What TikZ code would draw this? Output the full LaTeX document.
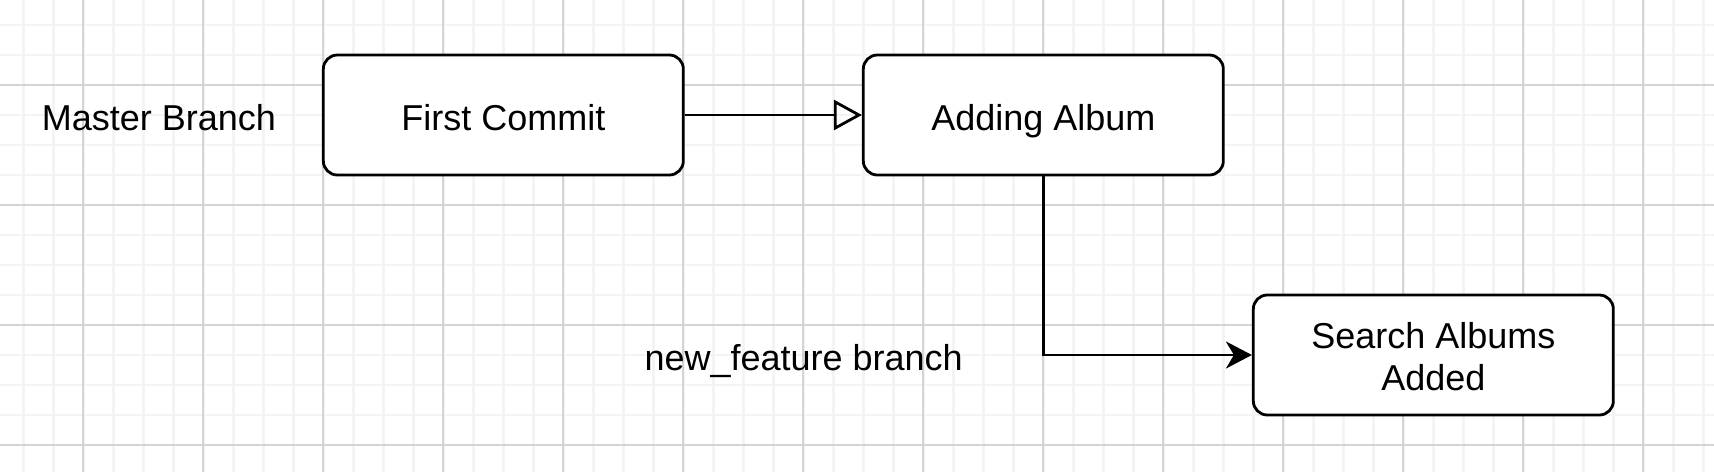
\documentclass[tikz,border=0pt]{standalone}
\usepackage{fontspec}
\setmainfont{Liberation Sans}
\usetikzlibrary{arrows.meta}
\definecolor{gridmajor}{HTML}{D4D4D4}
\definecolor{gridminor}{HTML}{F4F4F4}
\tikzset{
  minorline/.style={draw=gridminor, line width=2.5pt},
  majorline/.style={draw=gridmajor, line width=2pt},
  commitbox/.style={draw=black, fill=white, line width=2.8pt, rounded corners=14pt,
    minimum width=360pt, minimum height=120pt, inner sep=0pt,
    font=\fontsize{36}{42}\selectfont, text height=30pt, text depth=0pt},
  twolinebox/.style={commitbox, align=center, text height=70pt},
  plainlabel/.style={font=\fontsize{36}{42}\selectfont, anchor=base, inner sep=0pt},
  conn/.style={draw=black, line width=2.8pt},
}
\begin{document}
\begin{tikzpicture}[x=1pt, y=-1pt]
\useasboundingbox (0,0) rectangle (1714,472);
\fill[white] (0,0) rectangle (1714,472);
% grid
\foreach \i in {0,...,56} \draw[minorline] ({23.33+30*\i},0) -- ++(0,472);
\foreach \i in {0,...,15} \draw[minorline] (0,{25+30*\i}) -- ++(1714,0);
\foreach \i in {0,...,13} \draw[majorline] ({83.33+120*\i},0) -- ++(0,472);
\foreach \i in {0,...,3} \draw[majorline] (0,{85+120*\i}) -- ++(1714,0);
% nodes
\node[plainlabel] (mb) at (159,130) {Master Branch};
\node[commitbox] (fc) at (503.33,115) {First Commit};
\node[commitbox] (aa) at (1043.33,115) {Adding Album};
\node[twolinebox] (sa) at (1433.33,355) {Search Albums\\Added};
\node[plainlabel] (nf) at (803.7,370) {new\_feature branch};
% connectors
\draw[conn, -{Triangle[open, length=28pt, width=30pt]}] (fc) -- (aa);
\draw[conn, -{Stealth[length=26pt, width=27pt, inset=8pt]}] (aa.south) |- (sa.west);
\end{tikzpicture}
\end{document}
